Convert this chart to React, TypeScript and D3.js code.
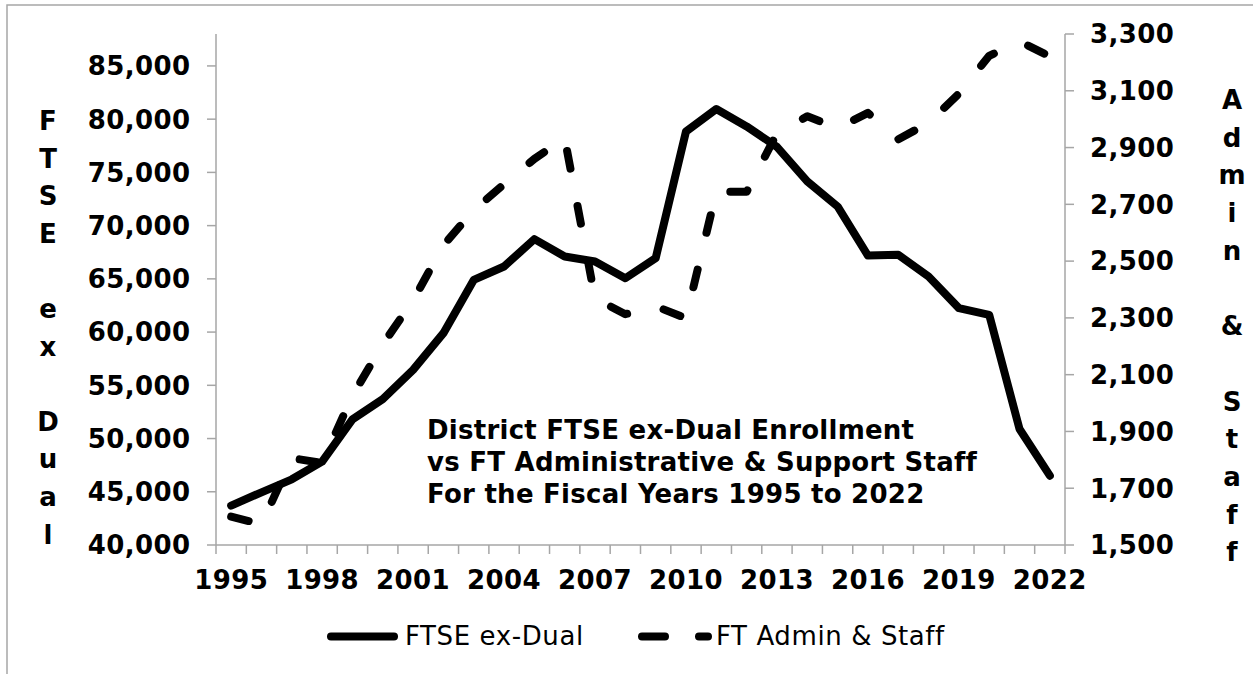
import React from "react";
import * as d3 from "d3";

// Fiscal years on the category axis
const years: number[] = d3.range(1995, 2023);

// District FTSE enrollment excluding dual credit (left axis)
const ftseExDual: number[] = [
  43700, 44950, 46170, 47830, 51800, 53700, 56450, 59900, 64900, 66160,
  68730, 67100, 66630, 65060, 66940, 78840, 80950, 79320, 77400, 74150,
  71800, 67190, 67260, 65220, 62250, 61620, 50900, 46510,
];

// Full-time administrative & support staff (right axis)
const ftAdminStaff: number[] = [
  1600, 1573, 1806, 1789, 2026, 2207, 2361, 2556, 2679, 2771,
  2860, 2933, 2369, 2313, 2341, 2299, 2744, 2744, 2950, 3010,
  2968, 3022, 2929, 2987, 3090, 3223, 3274, 3221,
];

const leftTicks: number[] = [40000, 45000, 50000, 55000, 60000, 65000, 70000, 75000, 80000, 85000];
const rightTicks: number[] = [1500, 1700, 1900, 2100, 2300, 2500, 2700, 2900, 3100, 3300];
const labeledYears: number[] = [1995, 1998, 2001, 2004, 2007, 2010, 2013, 2016, 2019, 2022];

const titleLines: string[] = [
  "District FTSE ex-Dual Enrollment",
  "vs FT Administrative & Support Staff",
  "For the Fiscal Years 1995 to 2022",
];
const leftAxisTitle = "FTSE ex Dual";
const rightAxisTitle = "Admin & Staff";
const legendLabels: string[] = ["FTSE ex-Dual", "FT Admin & Staff"];

const W = 1253;
const H = 674;
const plot = { left: 216, right: 1065, top: 34, bottom: 545 };
const FONT = "'DejaVu Sans', Verdana, sans-serif";
const AXIS_GREY = "#a6a6a6";

export default function App() {
  const x = d3
    .scaleBand<number>()
    .domain(years)
    .range([plot.left, plot.right])
    .paddingInner(0)
    .paddingOuter(0);
  const yL = d3.scaleLinear().domain([40000, 88000]).range([plot.bottom, plot.top]);
  const yR = d3.scaleLinear().domain([1500, 3300]).range([plot.bottom, plot.top]);
  const cx = (yr: number) => (x(yr) as number) + x.bandwidth() / 2;

  const solidPath = d3
    .line<number>()
    .x((_, i) => cx(years[i]))
    .y((v) => yL(v))(ftseExDual) as string;
  const dashPath = d3
    .line<number>()
    .x((_, i) => cx(years[i]))
    .y((v) => yR(v))(ftAdminStaff) as string;

  const fmt = d3.format(",");
  const boundaries = years.map((yr) => x(yr) as number).concat([plot.right]);

  return (
    <svg
      width={W}
      height={H}
      style={{ position: "absolute", left: 0, top: 0, background: "#fff" }}
      fontFamily={FONT}
    >
      {/* chart frame */}
      <rect x={7} y={5} width={W + 20} height={H + 20} fill="#fff" stroke={AXIS_GREY} strokeWidth={1.5} />

      {/* axes */}
      <g stroke={AXIS_GREY} strokeWidth={1.5} fill="none">
        <line x1={plot.left} x2={plot.left} y1={plot.top} y2={plot.bottom} />
        <line x1={plot.right} x2={plot.right} y1={plot.top} y2={plot.bottom} />
        <line x1={plot.left} x2={plot.right} y1={plot.bottom} y2={plot.bottom} />
        {leftTicks.map((t) => (
          <line key={"lt" + t} x1={plot.left - 9} x2={plot.left} y1={yL(t)} y2={yL(t)} />
        ))}
        {rightTicks.map((t) => (
          <line key={"rt" + t} x1={plot.right} x2={plot.right + 9} y1={yR(t)} y2={yR(t)} />
        ))}
        {boundaries.map((bx, i) => (
          <line key={"xt" + i} x1={bx} x2={bx} y1={plot.bottom} y2={plot.bottom + 9} />
        ))}
      </g>

      {/* tick labels */}
      <g fontWeight="bold" fontSize={26} fill="#000" letterSpacing={0.4}>
        {leftTicks.map((t) => (
          <text key={"ll" + t} x={190.5} y={yL(t)} dy="0.36em" textAnchor="end">
            {fmt(t)}
          </text>
        ))}
        {rightTicks.map((t) => (
          <text key={"rl" + t} x={1090} y={yR(t)} dy="0.36em" textAnchor="start">
            {fmt(t)}
          </text>
        ))}
        {labeledYears.map((yr) => (
          <text key={"xl" + yr} x={cx(yr)} y={589} textAnchor="middle">
            {yr}
          </text>
        ))}
      </g>

      {/* stacked axis titles */}
      <text fontWeight="bold" fontSize={26} textAnchor="middle" fill="#000">
        {leftAxisTitle.split("").map((ch, i) => (
          <tspan key={"la" + i} x={48} y={130 + i * 37.6}>
            {ch === " " ? "\u00a0" : ch}
          </tspan>
        ))}
      </text>
      <text fontWeight="bold" fontSize={26} textAnchor="middle" fill="#000">
        {rightAxisTitle.split("").map((ch, i) => (
          <tspan key={"ra" + i} x={1232} y={109 + i * 37.7}>
            {ch === " " ? "\u00a0" : ch}
          </tspan>
        ))}
      </text>

      {/* series */}
      <path d={solidPath} fill="none" stroke="#000" strokeWidth={8} strokeLinejoin="round" strokeLinecap="round" />
      <path
        d={dashPath}
        fill="none"
        stroke="#000"
        strokeWidth={8}
        strokeLinejoin="round"
        strokeLinecap="round"
        strokeDasharray="18 38"
      />

      {/* in-plot title */}
      <g fontWeight="bold" fontSize={26} fill="#000" letterSpacing={0.25}>
        {titleLines.map((line, i) => (
          <text key={"t" + i} x={427} y={439.3 + i * 31.7}>
            {line}
          </text>
        ))}
      </g>

      {/* legend */}
      <g>
        <line x1={331} x2={394} y1={636.5} y2={636.5} stroke="#000" strokeWidth={8} strokeLinecap="round" />
        <text x={405} y={645} fontSize={26} fill="#000" letterSpacing={0.6}>
          {legendLabels[0]}
        </text>
        <line
          x1={642}
          x2={708}
          y1={636.5}
          y2={636.5}
          stroke="#000"
          strokeWidth={8}
          strokeLinecap="round"
          strokeDasharray="23 34"
        />
        <text x={716} y={645} fontSize={26} fill="#000" letterSpacing={0.6}>
          {legendLabels[1]}
        </text>
      </g>
    </svg>
  );
}
